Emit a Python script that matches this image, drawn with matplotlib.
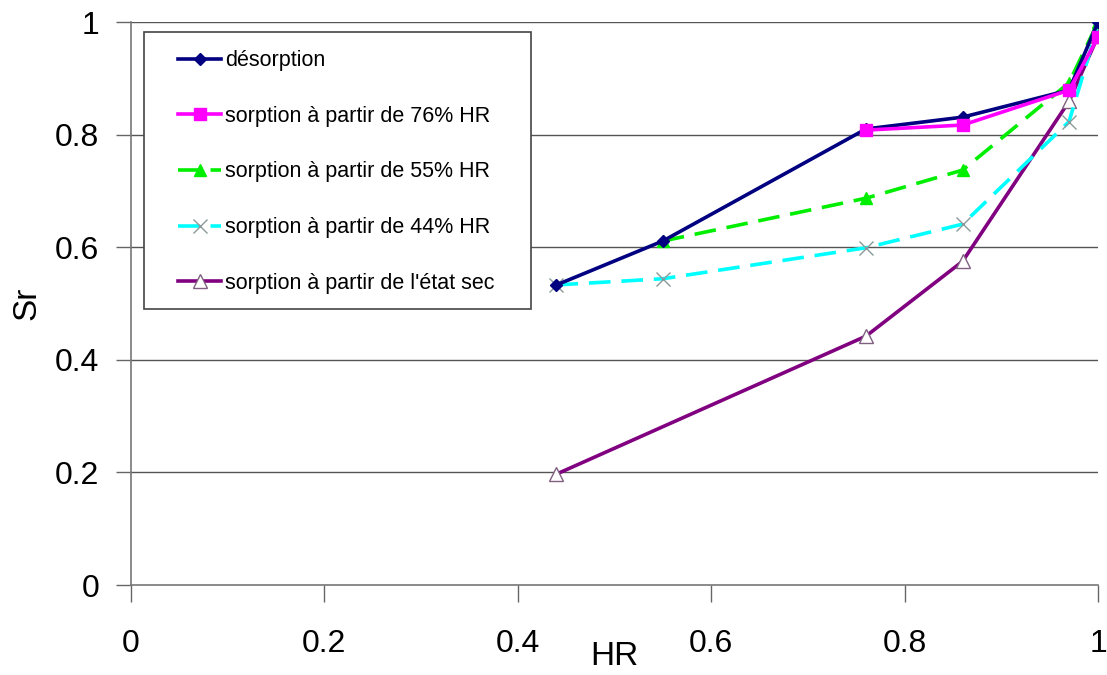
import matplotlib
matplotlib.use("Agg")
import matplotlib.pyplot as plt
from matplotlib.patches import Rectangle

# -----------------------------
# Data
# -----------------------------
hr_desorption = [0.44, 0.55, 0.76, 0.86, 0.97, 1.0]
sr_desorption = [0.533, 0.611, 0.810, 0.831, 0.879, 1.0]

hr_76 = [0.76, 0.86, 0.97, 1.0]
sr_76 = [0.808, 0.817, 0.879, 0.973]

hr_55 = [0.55, 0.76, 0.86, 0.97, 1.0]
sr_55 = [0.611, 0.687, 0.737, 0.892, 1.0]

hr_44 = [0.44, 0.55, 0.76, 0.86, 0.97, 1.0]
sr_44 = [0.533, 0.544, 0.599, 0.641, 0.823, 0.995]

hr_sec = [0.44, 0.76, 0.86, 0.97, 1.0]
sr_sec = [0.197, 0.442, 0.575, 0.859, 0.975]

x_ticks = [0, 0.2, 0.4, 0.6, 0.8, 1.0]
x_tick_labels = ["0", "0.2", "0.4", "0.6", "0.8", "1"]
y_ticks = [0, 0.2, 0.4, 0.6, 0.8, 1.0]
y_tick_labels = ["0", "0.2", "0.4", "0.6", "0.8", "1"]

# -----------------------------
# Style
# -----------------------------
plt.rcParams["font.family"] = ["Liberation Sans", "DejaVu Sans"]

fig = plt.figure(figsize=(11.07, 6.75), dpi=100)
ax = fig.add_axes([0.1183, 0.1333, 0.8736, 0.8341])

grid_color = "#555555"
for y in y_ticks[1:]:
    ax.axhline(y, color=grid_color, linewidth=1.0, zorder=1)

ax.plot(hr_desorption, sr_desorption, color="#000080", linewidth=2.6,
        marker="D", markersize=6, label="désorption", zorder=5)
ax.plot(hr_76, sr_76, color="#FF00FF", linewidth=2.6,
        marker="s", markersize=8, label="sorption à partir de 76% HR", zorder=6)
ax.plot(hr_55, sr_55, color="#00EE00", linewidth=2.6, dashes=(6, 3),
        marker="^", markersize=9, label="sorption à partir de 55% HR", zorder=4)
ax.plot(hr_44, sr_44, color="#00FFFF", linewidth=2.6, dashes=(6, 3),
        marker="x", markersize=10, markeredgecolor="#8a9a9a", markeredgewidth=1.0,
        label="sorption à partir de 44% HR", zorder=3)
ax.plot(hr_sec, sr_sec, color="#800080", linewidth=2.6,
        marker="^", markersize=10, markerfacecolor="white", markeredgecolor="#806080",
        markeredgewidth=1.0, label="sorption à partir de l'état sec", zorder=2)

ax.set_xlim(0, 1.0)
ax.set_ylim(0, 1.0)
ax.set_xticks(x_ticks)
ax.set_xticklabels(x_tick_labels, fontsize=23)
ax.set_yticks(y_ticks)
ax.set_yticklabels(y_tick_labels, fontsize=23)
ax.tick_params(axis="x", direction="out", length=12, width=1, color="#666666", pad=20)
ax.tick_params(axis="y", direction="out", length=11, width=1, color="#666666", pad=12)

for side in ["top", "right"]:
    ax.spines[side].set_visible(False)
for side in ["left", "bottom"]:
    ax.spines[side].set_color("#777777")
    ax.spines[side].set_linewidth(1.2)

ax.set_xlabel("HR", fontsize=24, labelpad=-13)
ax.set_ylabel("Sr", fontsize=24, labelpad=9)

# legend frame drawn by hand so the padding matches
frame = Rectangle((0.0134, 0.490), 0.4003, 0.492, transform=ax.transAxes,
                  facecolor="white", edgecolor="#444444", linewidth=1.2, zorder=7)
ax.add_patch(frame)

leg = ax.legend(loc="upper left", bbox_to_anchor=(0.049, 0.950), fontsize=15.5,
                frameon=False, labelspacing=1.61, handlelength=2.0,
                handletextpad=0.15, borderpad=0.0, borderaxespad=0)
leg.set_zorder(8)

fig.savefig("out.png", dpi=100)
